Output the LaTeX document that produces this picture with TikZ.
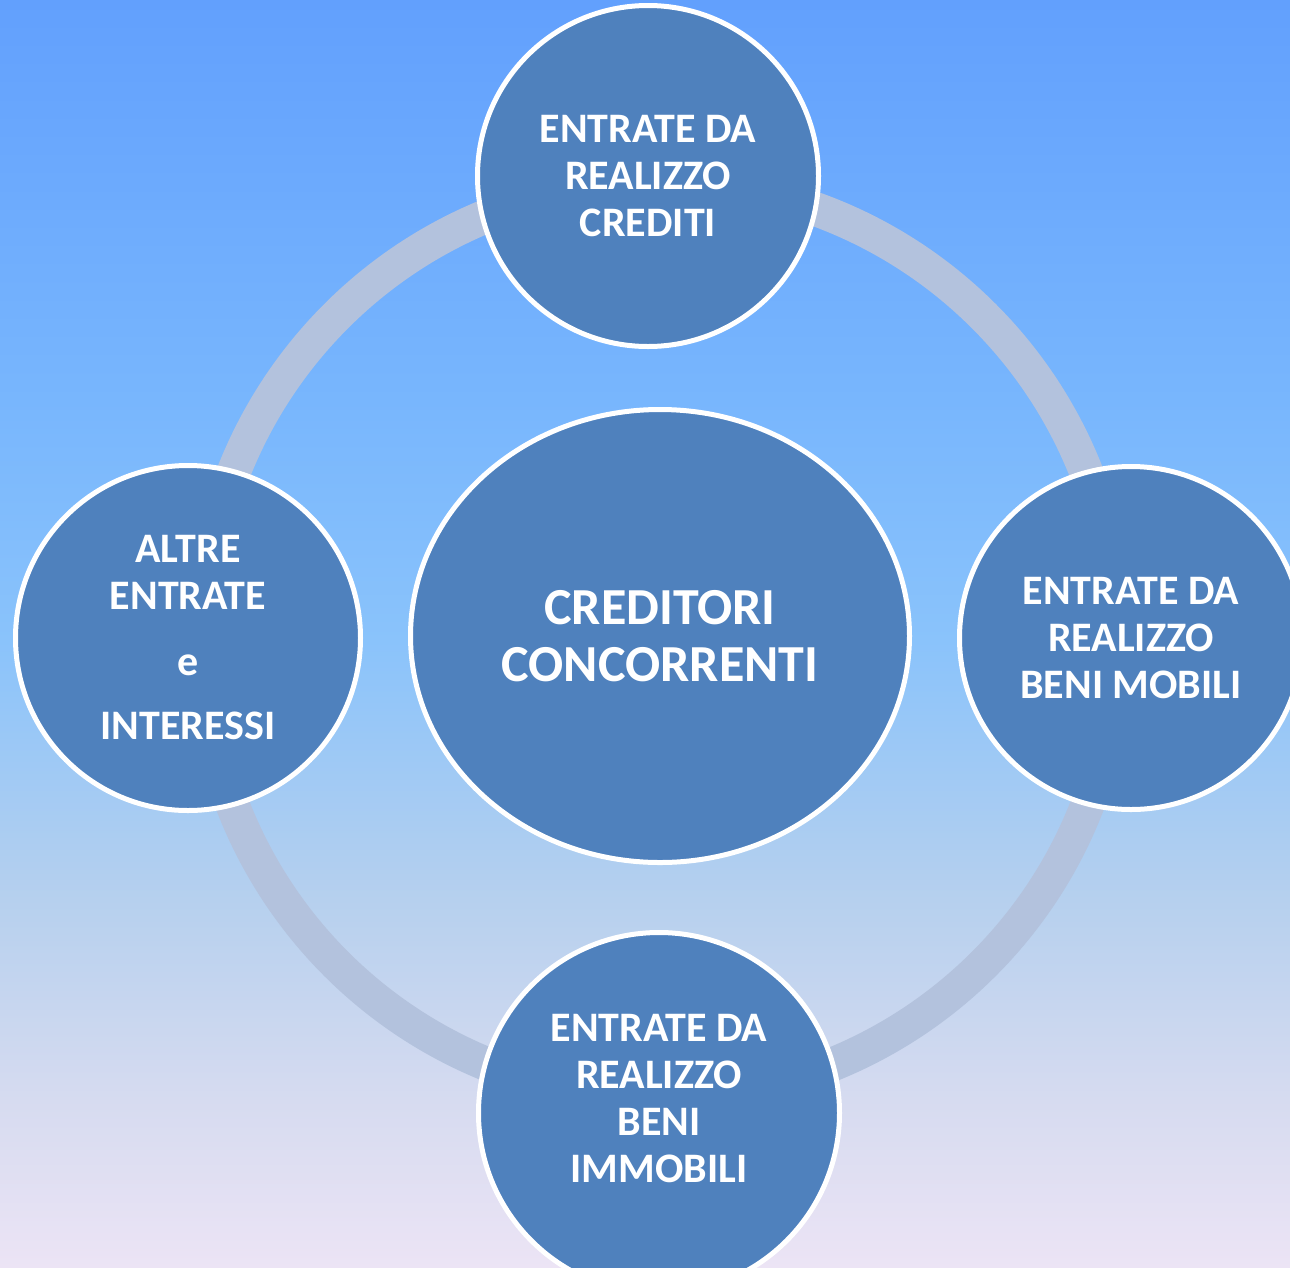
\documentclass[tikz,border=0pt]{standalone}
\usepackage{fontspec}
\setmainfont{Carlito}
\usetikzlibrary{shapes.geometric}

\definecolor{bgtop}{RGB}{98,160,253}
\definecolor{bgup}{RGB}{120,182,253}
\definecolor{bgmid}{RGB}{138,195,251}
\definecolor{bglow}{RGB}{182,208,238}
\definecolor{bgdeep}{RGB}{214,219,240}
\definecolor{bgbot}{RGB}{236,228,245}
\definecolor{ringcol}{RGB}{179,194,221}
\definecolor{bubblefill}{RGB}{79,129,189}

% background: 25bp = bottom edge, 75bp = top edge
\pgfdeclareverticalshading{bgshade}{100bp}{color(0bp)=(bgbot); color(25bp)=(bgbot);
	color(31.6bp)=(bgdeep); color(39.5bp)=(bglow); color(49.7bp)=(bgmid);
	color(59.2bp)=(bgup); color(75bp)=(bgtop); color(100bp)=(bgtop)}

\tikzset{
	bubble/.style={circle, fill=bubblefill, draw=white, line width=5pt, inner sep=0pt,
		text=white, align=center, font=\fontsize{42}{47}\selectfont\bfseries},
	bigbubble/.style={ellipse, fill=bubblefill, draw=white, line width=5pt, inner sep=0pt,
		text=white, align=center, font=\fontsize{52}{57}\selectfont\bfseries},
	bubbletext/.style={text=white, align=center, font=\fontsize{42}{47}\selectfont\bfseries}
}

\begin{document}
\begin{tikzpicture}[x=1pt, y=-1pt]
\useasboundingbox (0,0) rectangle (1290,1267);
\shade[shading=bgshade] (0,0) rectangle (1290,1267);
\draw[ringcol, line width=34pt] (660,640) circle (458pt);

\node[bigbubble, minimum width=499pt, minimum height=453pt] (creditori) at (660,636) {CREDITORI\\CONCORRENTI};
\node[bubble, minimum size=341pt] (crediti) at (648,176) {ENTRATE DA\\REALIZZO\\CREDITI};
\node[bubble, minimum size=343pt] (mobili) at (1131,638) {ENTRATE DA\\REALIZZO\\BENI MOBILI};
\node[bubble, minimum size=345pt] (altre) at (188,638) {ALTRE\\ENTRATE\\[19pt]e\\[17pt]INTERESSI};
\node[bubble, minimum size=361pt] (immobili) at (659,1113) {};
\node[bubbletext] (immobilitext) at ([yshift=14pt]immobili.center) {ENTRATE DA\\REALIZZO\\BENI\\IMMOBILI};
\end{tikzpicture}
\end{document}
